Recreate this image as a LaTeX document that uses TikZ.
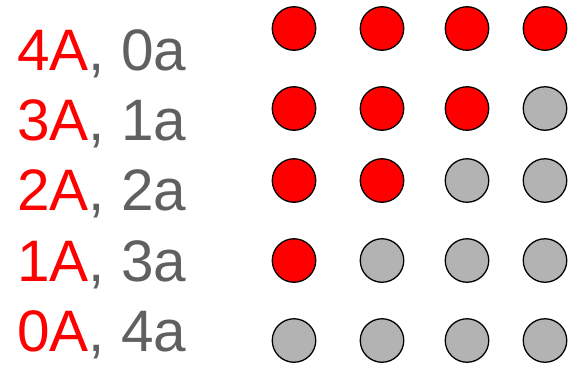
\documentclass[tikz,border=0pt]{standalone}
\usepackage{fontspec}
\setmainfont{Liberation Sans}
\definecolor{allelered}{RGB}{255,0,0}
\definecolor{allelegray}{RGB}{96,96,96}
\definecolor{ballgray}{RGB}{179,179,179}
\begin{document}
\begin{tikzpicture}[
	x=1pt, y=-1pt,
	ballA/.style={ circle, draw, line width=1.3pt, fill=allelered, inner sep=0pt, minimum size=43.5pt },
	balla/.style={ circle, draw, line width=1.3pt, fill=ballgray, inner sep=0pt, minimum size=43.5pt },
	count/.style={ anchor=base west, inner sep=0pt, text=allelegray, font=\fontsize{58.5}{58.5}\selectfont }
]
\useasboundingbox (0,0) rectangle (569,364);

\node at (17,70.5) (fourA) [count] {\textcolor{allelered}{4A}, 0a};
\node at (17,140.5) (threeA) [count] {\textcolor{allelered}{3A}, 1a};
\node at (17,210) (twoA) [count] {\textcolor{allelered}{2A}, 2a};
\node at (17,281) (oneA) [count] {\textcolor{allelered}{1A}, 3a};
\node at (17,351) (zeroA) [count] {\textcolor{allelered}{0A}, 4a};

\node at (294,28.5) (r1c1) [ballA] {};
\node at (382,28.5) (r1c2) [ballA] {};
\node at (467,28.5) (r1c3) [ballA] {};
\node at (545,28.5) (r1c4) [ballA] {};

\node at (294,108.5) (r2c1) [ballA] {};
\node at (382,108.5) (r2c2) [ballA] {};
\node at (467,108.5) (r2c3) [ballA] {};
\node at (545,108.5) (r2c4) [balla] {};

\node at (294,180.5) (r3c1) [ballA] {};
\node at (382,180.5) (r3c2) [ballA] {};
\node at (467,180.5) (r3c3) [balla] {};
\node at (545,180.5) (r3c4) [balla] {};

\node at (294,260.5) (r4c1) [ballA] {};
\node at (382,260.5) (r4c2) [balla] {};
\node at (467,260.5) (r4c3) [balla] {};
\node at (545,260.5) (r4c4) [balla] {};

\node at (294,340.5) (r5c1) [balla] {};
\node at (382,340.5) (r5c2) [balla] {};
\node at (467,340.5) (r5c3) [balla] {};
\node at (545,340.5) (r5c4) [balla] {};

\end{tikzpicture}
\end{document}
